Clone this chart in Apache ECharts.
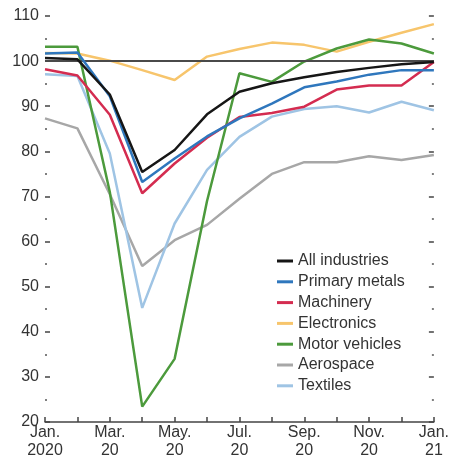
<!DOCTYPE html>
<html>
<head>
<meta charset="utf-8">
<script src="https://cdn.jsdelivr.net/npm/echarts@6/dist/echarts.min.js"></script>
<style>
  html, body { margin: 0; padding: 0; background: #fff; }
  #chart { width: 452px; height: 468px; }
</style>
</head>
<body>
<div id="chart"></div>
<script>
const months = ["Jan.\n2020", "Feb.\n20", "Mar.\n20", "Apr.\n20", "May.\n20", "Jun.\n20", "Jul.\n20", "Aug.\n20", "Sep.\n20", "Oct.\n20", "Nov.\n20", "Dec.\n20", "Jan.\n21"];
const allIndustries = [100.7, 100.4, 92.6, 75.4, 80.3, 88.2, 93.2, 95.1, 96.4, 97.6, 98.5, 99.3, 99.8];
const primaryMetals = [101.7, 101.9, 92.2, 73.2, 78.4, 83.3, 87.3, 90.6, 94.2, 95.5, 97.0, 98.0, 98.0];
const machinery = [98.2, 96.8, 88.1, 70.7, 77.3, 83.0, 87.6, 88.5, 89.9, 93.7, 94.6, 94.6, 99.8];
const electronics = [101.8, 101.7, 100.1, 98.0, 95.8, 101.0, 102.7, 104.1, 103.6, 102.1, 104.3, 106.3, 108.2];
const motorVehicles = [103.2, 103.2, 71.0, 23.4, 34.0, 69.0, 97.3, 95.4, 99.9, 102.8, 104.8, 103.9, 101.7];
const aerospace = [87.3, 85.1, 70.5, 54.6, 60.3, 63.7, 69.5, 75.0, 77.6, 77.6, 78.9, 78.1, 79.2];
const textiles = [97.1, 96.7, 79.5, 45.3, 64.0, 75.9, 83.2, 87.7, 89.4, 90.0, 88.6, 91.0, 89.1];
const referenceLevel = 100;
const yMin = 20, yMax = 110, yStep = 10;

const FONT = "'Liberation Sans', Arial, sans-serif";
const TXT = '#333';

const chart = echarts.init(document.getElementById('chart'), null, { renderer: 'canvas' });

function line(name, data, color, z, extra) {
  return Object.assign({
    name: name,
    type: 'line',
    data: data,
    symbol: 'none',
    showSymbol: false,
    z: z,
    lineStyle: { color: color, width: 2.5 },
    itemStyle: { color: color },
    emphasis: { disabled: true },
    animation: false
  }, extra || {});
}

const yAxisCommon = {
  type: 'value',
  min: yMin,
  max: yMax,
  interval: yStep,
  axisLine: { show: false },
  splitLine: { show: false },
  axisTick: { show: true, inside: true, length: 5, lineStyle: { color: '#444', width: 1.5 } },
  minorTick: { show: true, splitNumber: 2, length: 2, lineStyle: { color: '#555', width: 1.5 } }
};

const option = {
  backgroundColor: '#fff',
  animation: false,
  grid: { left: 45, right: 13, top: 16, bottom: 46, containLabel: false },
  legend: {
    orient: 'vertical',
    left: 272,
    top: 248,
    icon: 'rect',
    itemWidth: 16,
    itemHeight: 3,
    itemGap: 4.8,
    selectedMode: false,
    textStyle: { color: TXT, fontSize: 16, fontFamily: FONT, lineHeight: 16 },
    data: ['All industries', 'Primary metals', 'Machinery', 'Electronics', 'Motor vehicles', 'Aerospace', 'Textiles']
  },
  xAxis: {
    type: 'category',
    data: months,
    boundaryGap: false,
    axisLine: { show: true, lineStyle: { color: '#444', width: 1.5 } },
    axisTick: { show: true, inside: true, length: 5, interval: 0, lineStyle: { color: '#444', width: 1.5 } },
    axisLabel: { interval: 1, color: TXT, fontSize: 16, lineHeight: 18, margin: 2, fontFamily: FONT },
    splitLine: { show: false }
  },
  yAxis: [
    Object.assign({}, yAxisCommon, {
      position: 'left',
      axisLabel: { show: true, color: TXT, fontSize: 16, margin: 6, fontFamily: FONT }
    }),
    Object.assign({}, yAxisCommon, {
      position: 'right',
      axisLabel: { show: false }
    })
  ],
  series: [
    line('All industries', allIndustries, '#161616', 7, {
      markLine: {
        silent: true,
        symbol: 'none',
        label: { show: false },
        animation: false,
        lineStyle: { color: '#4a4a4a', width: 2, type: 'solid' },
        data: [{ yAxis: referenceLevel }]
      }
    }),
    line('Primary metals', primaryMetals, '#2f77bd', 6),
    line('Machinery', machinery, '#d42c50', 5),
    line('Electronics', electronics, '#f7c56c', 3),
    line('Motor vehicles', motorVehicles, '#4c9a3c', 4),
    line('Aerospace', aerospace, '#a7a7a7', 2),
    line('Textiles', textiles, '#9fc4e4', 2)
  ]
};

chart.setOption(option);
</script>
</body>
</html>
